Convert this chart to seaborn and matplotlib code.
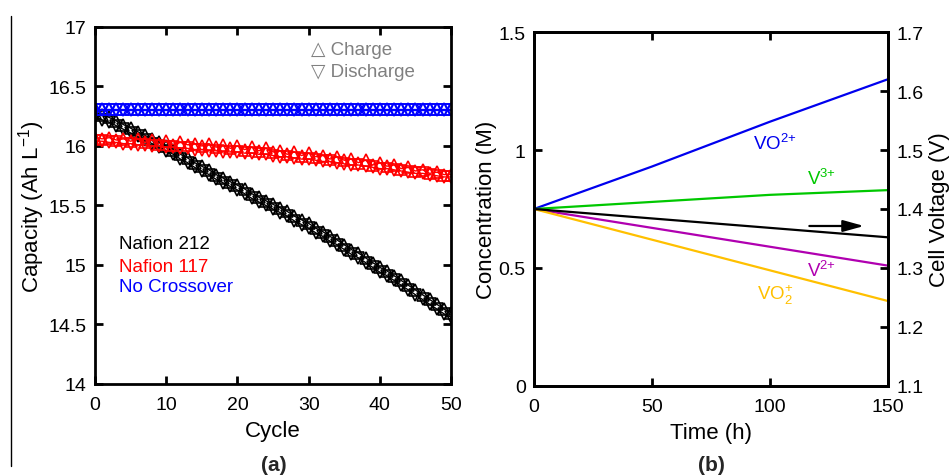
import seaborn as sns
import matplotlib.pyplot as plt
from matplotlib.lines import Line2D

# panel (a): capacity vs cycle
cycles = list(range(51))
n212_charge = [16.28, 16.26, 16.24, 16.21, 16.18, 16.15, 16.12, 16.09, 16.06, 16.03,
               16.00, 15.97, 15.93, 15.90, 15.86, 15.83, 15.80, 15.76, 15.73, 15.70,
               15.67, 15.64, 15.60, 15.57, 15.54, 15.51, 15.48, 15.45, 15.41, 15.38,
               15.35, 15.31, 15.28, 15.24, 15.21, 15.17, 15.13, 15.10, 15.06, 15.02,
               14.98, 14.95, 14.91, 14.87, 14.83, 14.79, 14.75, 14.71, 14.67, 14.63, 14.60]
n212_discharge = [16.24, 16.22, 16.20, 16.17, 16.14, 16.11, 16.08, 16.05, 16.02, 15.99,
                  15.96, 15.93, 15.89, 15.86, 15.82, 15.79, 15.76, 15.72, 15.69, 15.66,
                  15.63, 15.60, 15.56, 15.53, 15.50, 15.47, 15.44, 15.41, 15.37, 15.34,
                  15.31, 15.27, 15.24, 15.20, 15.17, 15.13, 15.09, 15.06, 15.02, 14.98,
                  14.94, 14.91, 14.87, 14.83, 14.79, 14.75, 14.71, 14.67, 14.63, 14.59, 14.56]
n117_charge = [16.07, 16.06, 16.07, 16.05, 16.06, 16.04, 16.06, 16.03, 16.05, 16.02,
               16.04, 16.01, 16.03, 16.01, 16.02, 16.00, 16.02, 15.99, 16.01, 15.98,
               16.00, 15.97, 15.99, 15.96, 15.98, 15.95, 15.96, 15.93, 15.95, 15.92,
               15.94, 15.91, 15.92, 15.89, 15.91, 15.88, 15.89, 15.86, 15.88, 15.84,
               15.86, 15.83, 15.84, 15.81, 15.82, 15.79, 15.80, 15.77, 15.78, 15.76, 15.76]
n117_discharge = [16.04, 16.04, 16.03, 16.03, 16.02, 16.02, 16.01, 16.01, 16.00, 16.00,
                  15.99, 15.99, 15.98, 15.98, 15.97, 15.97, 15.96, 15.96, 15.95, 15.95,
                  15.95, 15.94, 15.94, 15.93, 15.93, 15.92, 15.91, 15.91, 15.90, 15.89,
                  15.89, 15.88, 15.87, 15.87, 15.86, 15.85, 15.84, 15.84, 15.83, 15.82,
                  15.81, 15.81, 15.80, 15.79, 15.78, 15.77, 15.77, 15.76, 15.75, 15.74, 15.74]
nocross_charge = [16.31, 16.31, 16.31, 16.31, 16.31, 16.31, 16.31, 16.31, 16.31, 16.31,
                  16.31, 16.31, 16.31, 16.31, 16.31, 16.31, 16.31, 16.31, 16.31, 16.31,
                  16.31, 16.31, 16.31, 16.31, 16.31, 16.31, 16.31, 16.31, 16.31, 16.31,
                  16.31, 16.31, 16.31, 16.31, 16.31, 16.31, 16.31, 16.31, 16.31, 16.31,
                  16.31, 16.31, 16.31, 16.31, 16.31, 16.31, 16.31, 16.31, 16.31, 16.31, 16.31]
nocross_discharge = [16.30, 16.30, 16.30, 16.30, 16.30, 16.30, 16.30, 16.30, 16.30, 16.30,
                     16.30, 16.30, 16.30, 16.30, 16.30, 16.30, 16.30, 16.30, 16.30, 16.30,
                     16.30, 16.30, 16.30, 16.30, 16.30, 16.30, 16.30, 16.30, 16.30, 16.30,
                     16.30, 16.30, 16.30, 16.30, 16.30, 16.30, 16.30, 16.30, 16.30, 16.30,
                     16.30, 16.30, 16.30, 16.30, 16.30, 16.30, 16.30, 16.30, 16.30, 16.30, 16.30]
cap_yticks = [14, 14.5, 15, 15.5, 16, 16.5, 17]
cap_ylabels = ["14", "14.5", "15", "15.5", "16", "16.5", "17"]

# panel (b): concentrations and cell voltage vs time
time_h = [0, 50, 100, 150]
conc_vo2 = [0.75, 0.93, 1.12, 1.30]
conc_v3 = [0.75, 0.78, 0.81, 0.83]
conc_v2 = [0.75, 0.67, 0.59, 0.51]
conc_vo2p = [0.75, 0.62, 0.49, 0.36]
cell_voltage = [1.40, 1.384, 1.368, 1.352]
conc_yticks = [0, 0.5, 1, 1.5]
conc_ylabels = ["0", "0.5", "1", "1.5"]
volt_yticks = [1.1, 1.2, 1.3, 1.4, 1.5, 1.6, 1.7]
volt_ylabels = ["1.1", "1.2", "1.3", "1.4", "1.5", "1.6", "1.7"]

sns.set_theme(style="ticks")
plt.rcParams['font.family'] = ['Liberation Sans', 'DejaVu Sans']
plt.rcParams['mathtext.fontset'] = 'custom'
plt.rcParams['mathtext.rm'] = 'Liberation Sans'
plt.rcParams['mathtext.it'] = 'Liberation Sans'

fig = plt.figure(figsize=(9.53, 4.77), dpi=100)
ax = fig.add_axes([0.0997, 0.1929, 0.3736, 0.7484])
axb = fig.add_axes([0.5603, 0.1887, 0.3715, 0.7421])

tick_fs = 14
label_fs = 16
note_fs = 13.5


def style_axes(a, pad=6):
    for s in a.spines.values():
        s.set_linewidth(2)
        s.set_color("black")
    a.tick_params(direction="in", length=6, width=2, labelsize=tick_fs, color="black",
                  labelcolor="black", pad=pad)


# --- panel (a)
series = [
    (n212_charge, n212_discharge, "black"),
    (n117_charge, n117_discharge, "red"),
    (nocross_charge, nocross_discharge, "blue"),
]
for ch, dis, col in series:
    for vals, mk in [(ch, "^"), (dis, "v")]:
        sns.lineplot(x=cycles, y=vals, ax=ax, color=col, lw=1, marker=mk,
                     markersize=8.5, markerfacecolor="none", markeredgecolor=col,
                     markeredgewidth=1.2)

ax.set_xlim(0, 50)
ax.set_ylim(14, 17)
ax.set_xticks([0, 10, 20, 30, 40, 50])
ax.set_yticks(cap_yticks)
ax.set_yticklabels(cap_ylabels)
ax.tick_params(top=True, right=True)
style_axes(ax)
ax.tick_params(axis="y", pad=6)
ax.tick_params(axis="x", pad=9)
ax.set_xlabel("Cycle", fontsize=label_fs, color="black", labelpad=5)
ax.set_ylabel("Capacity (Ah L$^{-1}$)", fontsize=label_fs, color="black", labelpad=1)

ax.text(30.4, 16.81, "\u25b3 Charge", color="gray", fontsize=note_fs, va="center")
ax.text(30.4, 16.63, "\u25bd Discharge", color="gray", fontsize=note_fs, va="center")
ax.text(3.4, 15.18, "Nafion 212", color="black", fontsize=note_fs, va="center")
ax.text(3.4, 14.99, "Nafion 117", color="red", fontsize=note_fs, va="center")
ax.text(3.4, 14.82, "No Crossover", color="blue", fontsize=note_fs, va="center")

# --- panel (b)
lines_b = [
    (conc_vo2, "#0000ee"),
    (conc_v3, "#00c800"),
    (conc_v2, "#b000b0"),
    (conc_vo2p, "#ffc000"),
]
for vals, col in lines_b:
    sns.lineplot(x=time_h, y=vals, ax=axb, color=col, lw=1.6)

axv = axb.twinx()
sns.lineplot(x=time_h, y=cell_voltage, ax=axv, color="black", lw=1.6)

axb.set_xlim(0, 150)
axb.set_ylim(0, 1.5)
axb.set_xticks([0, 50, 100, 150])
axb.set_yticks(conc_yticks)
axb.set_yticklabels(conc_ylabels)
axb.tick_params(top=True)
style_axes(axb)
axb.tick_params(axis="x", pad=9)
axv.set_ylim(1.1, 1.7)
axv.set_yticks(volt_yticks)
axv.set_yticklabels(volt_ylabels)
style_axes(axv)
axb.set_xlabel("Time (h)", fontsize=label_fs, color="black", labelpad=5)
axb.set_ylabel("Concentration (M)", fontsize=label_fs, color="black", labelpad=1)
axv.set_ylabel("Cell Voltage (V)", fontsize=label_fs, color="black", labelpad=4)

axb.annotate("", xy=(141, 0.678), xytext=(115.5, 0.678),
             arrowprops=dict(arrowstyle="-|>,head_length=0.9,head_width=0.25",
                             color="black", lw=1.6, mutation_scale=14))

axb.text(93, 1.03, "VO$^{2{+}}$", color="#0000ee", fontsize=note_fs, va="center")
axb.text(115.7, 0.88, "V$^{3{+}}$", color="#00c800", fontsize=note_fs, va="center")
axb.text(115.7, 0.49, "V$^{2{+}}$", color="#b000b0", fontsize=note_fs, va="center")
axb.text(94.5, 0.39, "VO$_2^{+}$", color="#ffc000", fontsize=note_fs, va="center")

fig.text(0.287, 0.025, "(a)", fontsize=15, fontweight="bold", ha="center", va="center")
fig.text(0.746, 0.025, "(b)", fontsize=15, fontweight="bold", ha="center", va="center")

fig.add_artist(Line2D([0.0115, 0.0115], [0.964, 0.02], color="black", lw=1))

plt.savefig("out.png", dpi=100)
plt.close(fig)
